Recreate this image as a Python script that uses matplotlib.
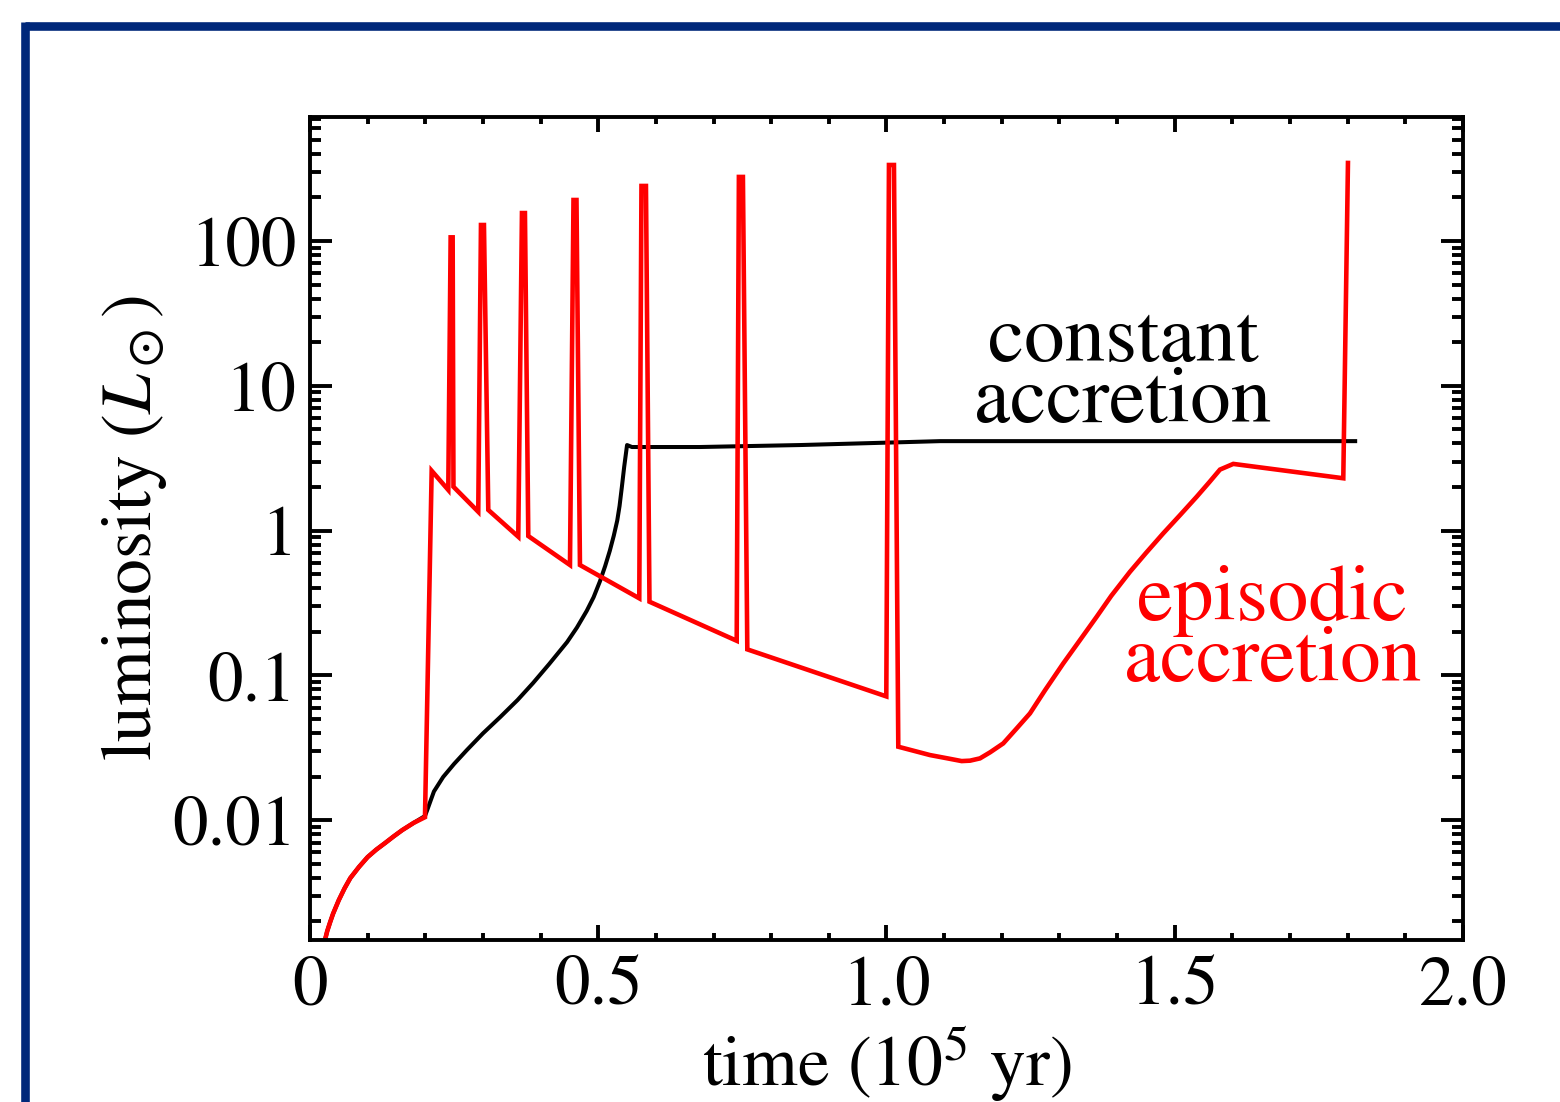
import matplotlib
matplotlib.use("Agg")
import matplotlib.pyplot as plt
from matplotlib.ticker import LogLocator, FixedLocator, MultipleLocator, NullFormatter
from matplotlib.lines import Line2D

# ---------------- data ----------------
# constant accretion (black)
t_const = [0.026, 0.030, 0.035, 0.040, 0.050, 0.060, 0.070, 0.085, 0.100, 0.115,
           0.130, 0.145, 0.160, 0.180, 0.1995,
           0.2035, 0.215, 0.231, 0.250, 0.272, 0.300, 0.330, 0.360, 0.387,
           0.415, 0.446, 0.463, 0.480, 0.492, 0.503, 0.512, 0.520, 0.527,
           0.533, 0.537, 0.541, 0.545, 0.550, 0.5585, 0.676, 0.85, 0.95,
           1.093, 1.5, 1.813]
L_const = [0.00149, 0.00172, 0.00198, 0.00226, 0.00281, 0.00339, 0.00399, 0.00476,
           0.00557, 0.00627, 0.00695, 0.00773, 0.00855, 0.0096, 0.0107,
           0.0118, 0.0158, 0.0199, 0.0245, 0.0305, 0.0398, 0.0516, 0.0676, 0.0887,
           0.120, 0.170, 0.214, 0.279, 0.347, 0.447, 0.569, 0.724, 0.923,
           1.175, 1.48, 2.0, 2.75, 3.90, 3.78, 3.78, 3.9, 4.0,
           4.15, 4.15, 4.15]

# episodic accretion (red)
t_epi = [0.026, 0.030, 0.035, 0.040, 0.050, 0.060, 0.070, 0.085, 0.100, 0.115,
         0.130, 0.145, 0.160, 0.180, 0.1995,
         0.2111, 0.2399,
         0.2440, 0.2475, 0.2489, 0.2919,
         0.2966, 0.3018, 0.3093, 0.3613,
         0.3677, 0.3729, 0.3787, 0.4510,
         0.4571, 0.4623, 0.4683, 0.5712,
         0.5750, 0.5828, 0.5889, 0.7402,
         0.7440, 0.7510, 0.7586, 0.9997,
         1.0043, 1.0130, 1.0205,
         1.0755, 1.105, 1.1304, 1.145, 1.1622, 1.18, 1.2026, 1.225, 1.2489,
         1.275, 1.3067, 1.335, 1.3646, 1.39, 1.4224, 1.45, 1.4801, 1.51,
         1.5381, 1.56, 1.5785, 1.6016, 1.7924, 1.8005]
L_epi = [0.00149, 0.00172, 0.00198, 0.00226, 0.00281, 0.00339, 0.00399, 0.00476,
         0.00557, 0.00627, 0.00695, 0.00773, 0.00855, 0.0096, 0.0105,
         2.59, 1.91,
         106.0, 106.0, 2.01, 1.35,
         129.0, 129.0, 1.39, 0.908,
         156.0, 156.0, 0.918, 0.579,
         192.0, 192.0, 0.579, 0.341,
         240.0, 240.0, 0.323, 0.1736,
         277.0, 277.0, 0.1514, 0.0717,
         335.0, 335.0, 0.0322,
         0.0282, 0.0268, 0.02563, 0.0258, 0.02675, 0.0295, 0.03396, 0.0427, 0.0547,
         0.079, 0.1212, 0.174, 0.2542, 0.355, 0.520, 0.70, 0.958, 1.29,
         1.714, 2.16, 2.64, 2.89, 2.30, 346.0]

xticks = [0, 0.5, 1.0, 1.5, 2.0]
xticklabels = ["0", "0.5", "1.0", "1.5", "2.0"]
yticks = [0.01, 0.1, 1, 10, 100]
yticklabels = ["0.01", "0.1", "1", "10", "100"]

# ---------------- style ----------------
plt.rcParams["font.family"] = ["STIXGeneral", "DejaVu Serif"]
plt.rcParams["mathtext.fontset"] = "stix"

fig = plt.figure(figsize=(15.6, 11.02), dpi=100)
ax = fig.add_axes([0.1987, 0.1470, 0.9378 - 0.1987, 0.8938 - 0.1470])

ax.plot(t_const, L_const, color="black", lw=2.9, solid_joinstyle="round")
ax.plot(t_epi, L_epi, color="#ff0000", lw=3.3, solid_joinstyle="miter")

ax.set_yscale("log")
ax.set_xlim(0, 2.0)
ax.set_ylim(1.49e-3, 718)

ax.xaxis.set_major_locator(FixedLocator(xticks))
ax.set_xticklabels(xticklabels)
ax.xaxis.set_minor_locator(MultipleLocator(0.1))
ax.yaxis.set_major_locator(FixedLocator(yticks))
ax.set_yticklabels(yticklabels)
ax.yaxis.set_minor_locator(LogLocator(base=10, subs=range(2, 10), numticks=20))
ax.yaxis.set_minor_formatter(NullFormatter())

for sp in ax.spines.values():
    sp.set_linewidth(2.8)

ax.tick_params(axis="both", which="both", direction="in", top=True, right=True,
               width=2.8, labelsize=51)
ax.tick_params(axis="x", which="major", length=11, pad=11)
ax.tick_params(axis="x", which="minor", length=5)
ax.tick_params(axis="y", which="major", length=16, pad=10)
ax.tick_params(axis="y", which="minor", length=8)

ax.set_xlabel(r"time (10$^5$ yr)", fontsize=51.5, labelpad=2)
ax.set_ylabel(r"luminosity ($L_\odot$)", fontsize=51.5, labelpad=2)

ax.text(1.41, 12.4, "constant\naccretion", fontsize=58.5, color="black",
        ha="center", va="center", linespacing=0.8)
ax.text(1.67, 0.20, "episodic\naccretion", fontsize=58.5, color="#ff0000",
        ha="center", va="center", linespacing=0.8)

# dark blue slide frame (top and left edges)
navy = "#00287a"
fig.add_artist(Line2D([25 / 1560, 1.0], [1 - 26 / 1102, 1 - 26 / 1102],
                      transform=fig.transFigure, color=navy, lw=6.2,
                      solid_capstyle="butt"))
fig.add_artist(Line2D([25 / 1560, 25 / 1560], [0.0, 1 - 22 / 1102],
                      transform=fig.transFigure, color=navy, lw=6.2,
                      solid_capstyle="butt"))

fig.savefig("out.png", dpi=100)
